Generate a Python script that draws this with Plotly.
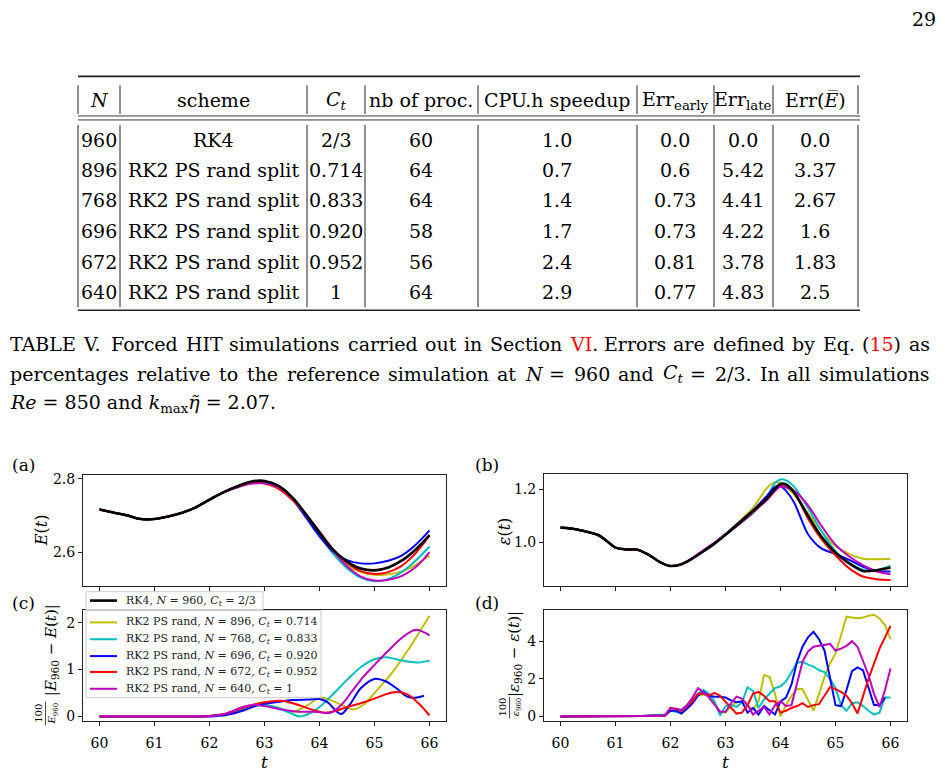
import re
import plotly.graph_objects as go

W, H = 945, 778
FONT = "DejaVu Serif"


def X(px):
    return px / W


def Y(py):
    return 1 - py / H


# ---------------- table data ----------------
tab_header = ["<i>N</i>", "scheme", "<i>C<sub>t</sub></i>", "nb of proc.", "CPU.h speedup",
              "Err<sub>early</sub>", "Err<sub>late</sub>", "Err(<i>E\u0305</i>)"]
tab_N = ["960", "896", "768", "696", "672", "640"]
tab_scheme = ["RK4", "RK2 PS rand split", "RK2 PS rand split", "RK2 PS rand split",
              "RK2 PS rand split", "RK2 PS rand split"]
tab_Ct = ["2/3", "0.714", "0.833", "0.920", "0.952", "1"]
tab_proc = ["60", "64", "64", "58", "56", "64"]
tab_speedup = ["1.0", "0.7", "1.4", "1.7", "2.4", "2.9"]
tab_err_early = ["0.0", "0.6", "0.73", "0.73", "0.81", "0.77"]
tab_err_late = ["0.0", "5.42", "4.41", "4.22", "3.78", "4.83"]
tab_err_E = ["0.0", "3.37", "2.67", "1.6", "1.83", "2.5"]

# ---------------- caption words ----------------
RED = "#ff0000"
cap_line1 = ["TABLE", "V.", "Forced", "HIT", "simulations", "carried", "out", "in", "Section",
             "<span style='color:%s'>VI</span>." % RED, "Errors", "are", "defined", "by", "Eq.",
             "(<span style='color:%s'>15</span>)" % RED, "as"]
cap_line2 = ["percentages", "relative", "to", "the", "reference", "simulation", "at", "<i>N</i>",
             "=", "960", "and", "<i>C<sub>t</sub></i>", "=", "2/3.", "In", "all", "simulations"]
cap_line3 = "<i>Re</i> = 850 and <i>k</i><sub>max</sub><i>\u03b7\u0303</i> = 2.07."

# ---------------- series names / colours ----------------
names = ["RK4, <i>N</i> = 960, <i>C<sub>t</sub></i> = 2/3",
         "RK2 PS rand, <i>N</i> = 896, <i>C<sub>t</sub></i> = 0.714",
         "RK2 PS rand, <i>N</i> = 768, <i>C<sub>t</sub></i> = 0.833",
         "RK2 PS rand, <i>N</i> = 696, <i>C<sub>t</sub></i> = 0.920",
         "RK2 PS rand, <i>N</i> = 672, <i>C<sub>t</sub></i> = 0.952",
         "RK2 PS rand, <i>N</i> = 640, <i>C<sub>t</sub></i> = 1"]
colors = ["#000000", "#bfbf00", "#00bfbf", "#0000ff", "#ff0000", "#bf00bf"]

# ---------------- panel (a): E(t) ----------------
t_a = [60, 60.25, 60.5, 60.75, 61, 61.25, 61.5, 61.75, 62, 62.25, 62.5, 62.75, 63,
       63.25, 63.5, 63.75, 64, 64.25, 64.5, 64.75, 65, 65.25, 65.5, 65.75, 66]
E_rk4 = [2.716, 2.708, 2.700, 2.690, 2.690, 2.697, 2.707, 2.722, 2.743, 2.763, 2.779, 2.792, 2.794,
         2.781, 2.750, 2.704, 2.653, 2.606, 2.574, 2.555, 2.550, 2.558, 2.577, 2.607, 2.646]
E_896 = [2.716, 2.708, 2.700, 2.690, 2.690, 2.697, 2.707, 2.722, 2.743, 2.763, 2.778, 2.790, 2.791,
         2.780, 2.748, 2.700, 2.650, 2.600, 2.565, 2.545, 2.538, 2.539, 2.547, 2.565, 2.590]
E_768 = [2.716, 2.708, 2.700, 2.690, 2.690, 2.697, 2.707, 2.722, 2.743, 2.763, 2.778, 2.790, 2.790,
         2.778, 2.750, 2.702, 2.648, 2.595, 2.556, 2.530, 2.520, 2.526, 2.546, 2.577, 2.615]
E_696 = [2.716, 2.708, 2.700, 2.690, 2.690, 2.697, 2.707, 2.722, 2.743, 2.763, 2.779, 2.791, 2.791,
         2.779, 2.745, 2.695, 2.643, 2.601, 2.578, 2.569, 2.569, 2.576, 2.591, 2.620, 2.659]
E_672 = [2.716, 2.708, 2.700, 2.690, 2.690, 2.697, 2.707, 2.722, 2.743, 2.763, 2.778, 2.789, 2.787,
         2.773, 2.743, 2.703, 2.656, 2.607, 2.571, 2.548, 2.540, 2.545, 2.563, 2.597, 2.645]
E_640 = [2.716, 2.708, 2.700, 2.690, 2.690, 2.697, 2.707, 2.722, 2.743, 2.762, 2.776, 2.786, 2.788,
         2.778, 2.748, 2.702, 2.654, 2.603, 2.561, 2.533, 2.522, 2.524, 2.535, 2.559, 2.600]

# ---------------- panel (b): epsilon(t) ----------------
t_b = [60, 60.25, 60.5, 60.7, 60.9, 61.0, 61.2, 61.4, 61.6, 61.8, 62.0, 62.2, 62.4, 62.6, 62.8,
       63.0, 63.25, 63.5, 63.75, 63.9, 64.0, 64.1, 64.25, 64.5, 64.75, 65.0, 65.25, 65.5, 65.75, 66.0]
eps_rk4 = [1.055, 1.050, 1.038, 1.025, 0.994, 0.979, 0.972, 0.971, 0.952, 0.925, 0.909, 0.916, 0.938,
           0.965, 0.994, 1.028, 1.073, 1.119, 1.165, 1.203, 1.221, 1.219, 1.188, 1.100, 1.019, 0.960,
           0.919, 0.890, 0.893, 0.903]
eps_896 = [1.055, 1.050, 1.038, 1.025, 0.994, 0.979, 0.972, 0.971, 0.952, 0.925, 0.909, 0.916, 0.938,
           0.965, 0.995, 1.030, 1.078, 1.130, 1.205, 1.228, 1.225, 1.210, 1.180, 1.110, 1.040, 0.985,
           0.955, 0.937, 0.935, 0.937]
eps_768 = [1.055, 1.050, 1.038, 1.025, 0.994, 0.979, 0.972, 0.971, 0.952, 0.925, 0.909, 0.916, 0.938,
           0.965, 0.994, 1.027, 1.068, 1.110, 1.170, 1.225, 1.238, 1.235, 1.210, 1.130, 1.040, 0.965,
           0.920, 0.895, 0.893, 0.910]
eps_696 = [1.055, 1.050, 1.038, 1.025, 0.994, 0.979, 0.972, 0.971, 0.952, 0.925, 0.909, 0.916, 0.938,
           0.966, 0.996, 1.030, 1.075, 1.120, 1.175, 1.210, 1.212, 1.195, 1.150, 1.030, 0.975, 0.955,
           0.932, 0.906, 0.890, 0.888]
eps_672 = [1.055, 1.050, 1.038, 1.025, 0.994, 0.979, 0.972, 0.971, 0.952, 0.925, 0.909, 0.916, 0.939,
           0.968, 0.997, 1.030, 1.068, 1.113, 1.160, 1.195, 1.215, 1.218, 1.190, 1.090, 1.010, 0.950,
           0.900, 0.869, 0.859, 0.856]
eps_640 = [1.055, 1.050, 1.038, 1.025, 0.994, 0.979, 0.972, 0.971, 0.952, 0.925, 0.909, 0.917, 0.940,
           0.970, 0.998, 1.030, 1.070, 1.115, 1.160, 1.195, 1.210, 1.208, 1.195, 1.140, 1.060, 0.990,
           0.945, 0.912, 0.888, 0.878]

# ---------------- panel (c): relative error on E ----------------
tc_896 = [60, 61, 62, 62.3, 62.6, 62.9, 63.2, 63.5, 63.8, 64.0, 64.3, 64.6, 64.8, 65.0, 65.3, 65.6, 66.0]
errE_896 = [0, 0, 0.01, 0.05, 0.15, 0.25, 0.2, 0.1, 0.25, 0.4, 0.3, 0.15, 0.25, 0.5, 0.9, 1.4, 2.15]
tc_768 = [60, 61, 62, 62.3, 62.6, 62.9, 63.2, 63.45, 63.65, 63.85, 64.0, 64.25, 64.5, 64.75, 65.0,
          65.2, 65.4, 65.6, 65.8, 66.0]
errE_768 = [0, 0, 0.01, 0.05, 0.15, 0.24, 0.2, 0.08, 0.0, 0.08, 0.2, 0.48, 0.78, 1.05, 1.22,
            1.26, 1.22, 1.17, 1.15, 1.19]
tc_696 = [60, 61, 62, 62.3, 62.6, 62.9, 63.2, 63.5, 63.8, 64.0, 64.15, 64.3, 64.4, 64.55, 64.75,
          65.0, 65.2, 65.4, 65.6, 65.75, 65.9]
errE_696 = [0, 0, 0.0, 0.03, 0.12, 0.25, 0.3, 0.35, 0.36, 0.37, 0.3, 0.12, 0.05, 0.25, 0.6,
            0.8, 0.75, 0.6, 0.42, 0.4, 0.44]
tc_672 = [60, 61, 62, 62.3, 62.6, 62.9, 63.1, 63.35, 63.6, 63.85, 64.1, 64.3, 64.5, 64.75, 65.0,
          65.2, 65.4, 65.6, 65.8, 66.0]
errE_672 = [0, 0, 0.01, 0.06, 0.18, 0.28, 0.32, 0.33, 0.25, 0.15, 0.08, 0.12, 0.2, 0.28, 0.38,
            0.47, 0.52, 0.47, 0.28, 0.02]
tc_640 = [60, 61, 62, 62.3, 62.6, 62.8, 63.0, 63.3, 63.6, 63.9, 64.2, 64.4, 64.6, 64.8, 65.0,
          65.25, 65.5, 65.75, 66.0]
errE_640 = [0, 0, 0.01, 0.06, 0.2, 0.25, 0.22, 0.15, 0.1, 0.1, 0.08, 0.25, 0.55, 0.85, 1.1,
            1.4, 1.68, 1.85, 1.73]

# ---------------- panel (d): relative error on epsilon ----------------
t_d = [60.0, 60.5, 61.0, 61.5, 61.9,
       62.0, 62.1, 62.2, 62.3, 62.4, 62.5, 62.6, 62.7, 62.8, 62.9,
       63.0, 63.1, 63.2, 63.3, 63.4, 63.5, 63.6, 63.7, 63.8, 63.9,
       64.0, 64.1, 64.2, 64.3, 64.4, 64.5, 64.6, 64.7, 64.8, 64.9,
       65.0, 65.1, 65.2, 65.3, 65.4, 65.5, 65.6, 65.7, 65.8, 65.9, 66.0]
errEps_896 = [0.0, 0.01, 0.02, 0.02, 0.08,
              0.35, 0.3, 0.25, 0.5, 0.85, 1.15, 1.15, 1.1, 0.7, 0.25,
              0.2, 0.55, 0.75, 0.8, 0.6, 0.35, 0.8, 2.2, 2.1, 1.2,
              0.0, 0.6, 1.1, 1.45, 1.45, 0.9, 0.3, 1.2, 2.1, 2.8,
              3.35, 4.3, 5.3, 5.25, 5.22, 5.25, 5.35, 5.4, 5.2, 4.85, 4.1]
errEps_768 = [0.0, 0.01, 0.02, 0.03, 0.1,
              0.3, 0.25, 0.2, 0.45, 0.8, 1.2, 1.4, 1.2, 0.8, 0.05,
              0.55, 0.6, 0.5, 0.75, 1.55, 1.35, 0.45, 0.9, 1.2, 1.5,
              1.6, 1.85, 2.35, 2.85, 2.9, 2.75, 2.65, 2.45, 2.35, 2.0,
              1.5, 0.6, 0.3, 0.7, 0.75, 0.55, 0.3, 0.1, 0.2, 1.0, 1.0]
errEps_696 = [0.0, 0.0, 0.01, 0.02, 0.05,
              0.3, 0.3, 0.15, 0.4, 0.7, 1.1, 1.3, 1.1, 1.05, 1.05,
              1.0, 0.85, 0.75, 0.8, 0.2, 0.45, 0.1, 0.55, 0.3, 0.1,
              0.8, 1.0, 1.7, 2.9, 3.7, 4.2, 4.5, 4.1, 3.5, 2.0,
              0.6, 0.55, 1.4, 2.4, 2.6, 2.45, 1.5, 0.6, 0.6, 1.0, None]
errEps_672 = [0.0, 0.0, 0.01, 0.02, 0.05,
              0.45, 0.4, 0.3, 0.55, 0.8, 1.2, 1.2, 1.1, 1.25, 1.1,
              0.8, 0.5, 0.15, 0.2, 0.6, 1.2, 1.3, 1.1, 0.8, 0.8,
              0.2, 0.3, 0.45, 0.55, 0.7, 0.5, 0.6, 0.65, 1.1, 1.55,
              1.45, 1.3, 1.1, 0.7, 0.15, 1.1, 2.0, 2.8, 3.6, 4.2, 4.8]
errEps_640 = [0.0, 0.0, 0.02, 0.02, 0.05,
              0.45, 0.4, 0.35, 0.6, 1.0, 1.5, 1.3, 1.0, 0.6, 0.25,
              0.25, 0.7, 1.05, 0.95, 0.6, 0.1, 0.3, 0.5, 0.1, 0.6,
              0.8, 0.55, 0.6, 1.8, 2.9, 3.45, 3.7, 3.75, 3.8, 3.85,
              3.5, 3.6, 3.75, 4.0, 3.7, 3.0, 2.2, 1.2, 0.5, 1.4, 2.55]

fig = go.Figure()

E_series = [E_rk4, E_896, E_768, E_696, E_672, E_640]
eps_series = [eps_rk4, eps_896, eps_768, eps_696, eps_672, eps_640]
order = [1, 2, 3, 4, 5, 0]
for i in order:
    fig.add_trace(go.Scatter(
        x=t_a, y=E_series[i], mode="lines", name=names[i], showlegend=False,
        line=dict(color=colors[i], width=2.6 if i == 0 else 2, shape="spline", smoothing=1.0),
        xaxis="x", yaxis="y"))
for i in order:
    fig.add_trace(go.Scatter(
        x=t_b, y=eps_series[i], mode="lines", name=names[i], showlegend=False,
        line=dict(color=colors[i], width=2.6 if i == 0 else 2, shape="spline", smoothing=0.8),
        xaxis="x2", yaxis="y2"))

c_t = [tc_896, tc_768, tc_696, tc_672, tc_640]
c_v = [errE_896, errE_768, errE_696, errE_672, errE_640]
for k in range(5):
    fig.add_trace(go.Scatter(
        x=c_t[k], y=c_v[k], mode="lines", name=names[k + 1], showlegend=False,
        line=dict(color=colors[k + 1], width=2, shape="spline", smoothing=0.9),
        xaxis="x3", yaxis="y3"))

d_v = [errEps_896, errEps_768, errEps_696, errEps_672, errEps_640]
for k in range(5):
    fig.add_trace(go.Scatter(
        x=t_d, y=d_v[k], mode="lines", name=names[k + 1], showlegend=False,
        line=dict(color=colors[k + 1], width=2),
        xaxis="x4", yaxis="y4"))

tickfont = dict(family=FONT, size=14, color="black")
common_ax = dict(showline=True, linecolor="#222", linewidth=1, mirror=True, ticks="outside",
                 ticklen=4, tickwidth=1, tickcolor="#222", showgrid=False, zeroline=False,
                 tickfont=tickfont)
xticks = [60, 61, 62, 63, 64, 65, 66]
xtext = ["60", "61", "62", "63", "64", "65", "66"]

fig.update_layout(
    width=W, height=H, margin=dict(l=0, r=0, t=0, b=0), showlegend=False,
    paper_bgcolor="white", plot_bgcolor="white",
    xaxis=dict(domain=[X(83), X(446)], range=[59.7, 66.3], anchor="y", tickvals=xticks,
               showticklabels=False, **common_ax),
    yaxis=dict(domain=[Y(587), Y(475)], range=[2.508, 2.811], anchor="x", tickvals=[2.6, 2.8],
               ticktext=["2.6", "2.8"], **common_ax),
    xaxis2=dict(domain=[X(544), X(907)], range=[59.7, 66.3], anchor="y2", tickvals=xticks,
                showticklabels=False, **common_ax),
    yaxis2=dict(domain=[Y(587), Y(474)], range=[0.834, 1.26], anchor="x2", tickvals=[1.0, 1.2],
                ticktext=["1.0", "1.2"], **common_ax),
    xaxis3=dict(domain=[X(83), X(446)], range=[59.7, 66.3], anchor="y3", tickvals=xticks,
                ticktext=xtext, ticklabelstandoff=5, **common_ax),
    yaxis3=dict(domain=[Y(724), Y(612)], range=[-0.108, 2.26], anchor="x3", tickvals=[0, 1, 2],
                ticktext=["0", "1", "2"], **common_ax),
    xaxis4=dict(domain=[X(544), X(907)], range=[59.7, 66.3], anchor="y4", tickvals=xticks,
                ticktext=xtext, ticklabelstandoff=5, **common_ax),
    yaxis4=dict(domain=[Y(724), Y(611)], range=[-0.27, 5.68], anchor="x4", tickvals=[0, 2, 4],
                ticktext=["0", "2", "4"], **common_ax),
)

ann = []
shapes = []


def text(x, y, s, size=19, anchor="center", color="black", angle=0):
    ann.append(dict(x=X(x), y=Y(y), xref="paper", yref="paper", text=s, showarrow=False,
                    xanchor=anchor, yanchor="middle", textangle=angle,
                    font=dict(family=FONT, size=size, color=color)))


def line(x0, y0, x1, y1, w=1, color="#222", layer="above"):
    shapes.append(dict(type="line", xref="paper", yref="paper", x0=X(x0), y0=Y(y0),
                       x1=X(x1), y1=Y(y1), line=dict(color=color, width=w), layer=layer))


def rect(x0, y0, x1, y1):
    shapes.append(dict(type="rect", xref="paper", yref="paper", x0=X(x0), y0=Y(y0),
                       x1=X(x1), y1=Y(y1), line=dict(color="#cccccc", width=1),
                       fillcolor="rgba(255,255,255,0.8)", layer="above"))


# approximate DejaVu Serif advance widths (em) used to justify the caption lines
CW = {" ": .318, "a": .596, "b": .640, "c": .564, "d": .640, "e": .592, "f": .370, "g": .640,
      "h": .644, "i": .320, "l": .320, "m": .948, "n": .644, "o": .602, "p": .640, "q": .640,
      "r": .478, "s": .513, "t": .402, "u": .644, "v": .586, "y": .586, "A": .724, "B": .736,
      "C": .731, "E": .688, "F": .655, "H": .855, "I": .375, "L": .640, "N": .855, "R": .736,
      "S": .670, "T": .670, "V": .724, ".": .318, "(": .390, ")": .390, "/": .337, "=": .838}


def word_width(s, size):
    total = 0.0
    scale = 1.0
    for tok in re.split(r"(<[^>]+>)", s):
        if tok.startswith("<"):
            if tok == "<sub>":
                scale = 0.7
            elif tok == "</sub>":
                scale = 1.0
            continue
        for ch in tok:
            total += CW.get(ch, .636) * scale
    return total * size


def justify(words, y, x0=8, x1=928, size=19):
    widths = [word_width(w_, size) for w_ in words]
    gap = (x1 - x0 - sum(widths)) / (len(words) - 1)
    x = x0
    for w_, wd in zip(words, widths):
        text(x, y, w_, size=size, anchor="left")
        x += wd + gap


# page number
text(938, 15, "29", size=19, anchor="right")

# ---------------- table ----------------
col_x = [78, 120, 307, 365, 478, 637, 714, 773, 858]
col_c = [99, 213, 336, 421, 557, 675, 743, 815]
row_y = [137, 168, 198, 229, 260, 291]
header_y = 97
line(78, 73, 860, 73, w=1.6)
line(78, 113, 860, 113, w=0.9)
line(78, 117, 860, 117, w=0.9)
line(78, 309, 860, 309, w=1.6)
for cx in col_x:
    line(cx, 82, cx, 111, w=1)
    line(cx, 122, cx, 306, w=1)
for j, h in enumerate(tab_header):
    text(col_c[j], header_y, h, size=19)
cols = [tab_N, tab_scheme, tab_Ct, tab_proc, tab_speedup, tab_err_early, tab_err_late, tab_err_E]
for j, col in enumerate(cols):
    for r, v in enumerate(col):
        text(col_c[j], row_y[r], v, size=19)

# ---------------- caption ----------------
justify(cap_line1, 343)
justify(cap_line2, 373)
text(8, 403, cap_line3, anchor="left")

# ---------------- panel labels and axis titles ----------------
text(23, 465, "(a)", size=17)
text(487, 465, "(b)", size=17)
text(23, 604, "(c)", size=17)
text(487, 604, "(d)", size=17)

text(41, 531, "<i>E</i>(<i>t</i>)", size=16, angle=-90)
text(504, 532, "<i>\u03b5</i>(<i>t</i>)", size=16, angle=-90)

text(51, 652, "|<i>E</i><sub>960</sub> \u2212 <i>E</i>(<i>t</i>)|", size=15, angle=-90)
text(46, 716, "100<br><i>E</i><sub>960</sub>", size=10, angle=-90)
line(45.5, 704, 45.5, 728, w=0.8)

text(514, 656, "|<i>\u03b5</i><sub>960</sub> \u2212 <i>\u03b5</i>(<i>t</i>)|", size=15, angle=-90)
text(510, 710, "100<br><i>\u03b5</i><sub>960</sub>", size=10, angle=-90)
line(509.5, 699, 509.5, 721, w=0.8)

text(264, 765, "<i>t</i>", size=17)
text(725, 765, "<i>t</i>", size=17)

# ---------------- legend (drawn as in the reference: two boxes) ----------------
rect(86, 593, 263, 611)
line(90, 602, 117, 602, w=2.6, color=colors[0])
text(124, 602, names[0], size=11, anchor="left", color="#222")
rect(86, 612, 321, 700)
leg_y = [624, 641, 658, 674, 691]
for k in range(5):
    line(90, leg_y[k], 117, leg_y[k], w=2, color=colors[k + 1])
    text(124, leg_y[k], names[k + 1], size=11, anchor="left", color="#222")

fig.update_layout(annotations=ann, shapes=shapes)
fig.write_html("out.html")
